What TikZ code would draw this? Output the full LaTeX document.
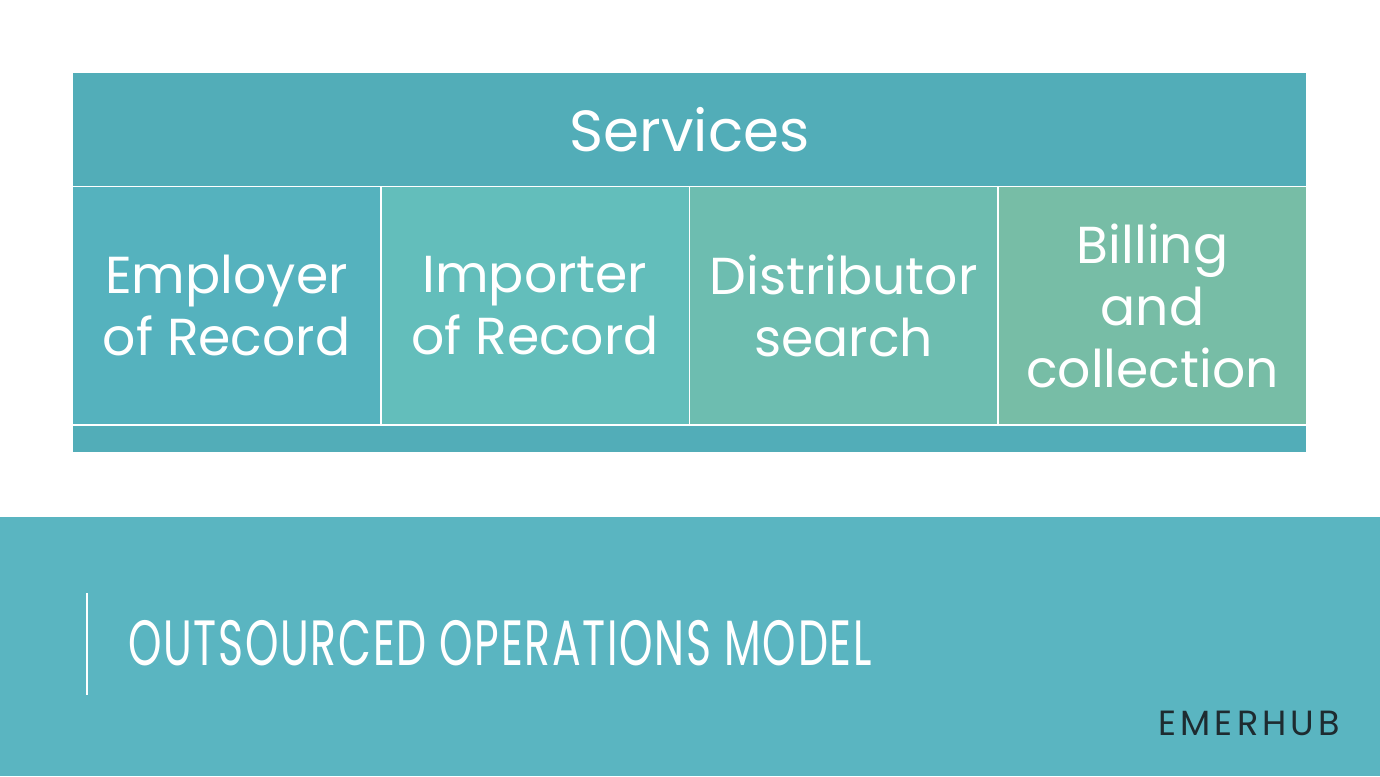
\documentclass[tikz,border=0pt]{standalone}
\usepackage{fontspec}
\setmainfont{Poppins}
\newfontfamily\logofont[LetterSpace=12]{Poppins}
\newfontfamily\titlefont[LetterSpace=4]{Poppins}

\definecolor{headteal}{HTML}{52ADB8}
\definecolor{boxA}{HTML}{55B2BE}
\definecolor{boxB}{HTML}{63BEBB}
\definecolor{boxC}{HTML}{6DBDB0}
\definecolor{boxD}{HTML}{77BDA6}
\definecolor{bandteal}{HTML}{5AB5C1}
\definecolor{logoink}{HTML}{1E2B30}

\tikzset{
  svcbox/.style={rectangle,inner sep=0pt,outer sep=0pt,minimum width=153.5pt,minimum height=118.5pt,
    text=white,align=center,font=\fontsize{26}{31}\selectfont},
}

\begin{document}
\begin{tikzpicture}[x=0.5pt,y=-0.5pt]
    \useasboundingbox (0,0) rectangle (1380,776);
    \fill[white] (0,0) rectangle (1380,517);
    \fill[bandteal] (0,517) rectangle (1380,776);
    % services table
    \node at (689.5,129.5) [rectangle,fill=headteal,inner sep=0pt,minimum width=616.5pt,minimum height=56.5pt,
        text=white,font=\fontsize{29}{34}\selectfont] (head) {Services};
    \node at (226.5,305.5) [svcbox,fill=boxA] (eor) {Employer\\of Record};
    \node at (535,305.5) [svcbox,fill=boxB] (ior) {Importer\\of Record};
    \node at (843.5,305.5) [svcbox,fill=boxC] (dist) {Distributor\\search};
    \node at (1152.5,305.5) [svcbox,fill=boxD] (bill) {Billing\\and\\collection};
    \node at (689.5,439) [rectangle,fill=headteal,inner sep=0pt,minimum width=616.5pt,minimum height=13pt] (foot) {};
    % title band
    \draw[white,line width=1pt] (87,593) -- (87,695);
    \node at (128,665) [anchor=base west,inner sep=0pt,text=white] (title)
        {\scalebox{0.665}[1]{\titlefont\fontsize{32}{38}\selectfont OUTSOURCED OPERATIONS MODEL}};
    \node at (1158,735) [anchor=base west,inner sep=0pt,text=logoink] (logo)
        {\logofont\fontsize{17.5}{20}\selectfont EMERHUB};
\end{tikzpicture}
\end{document}
